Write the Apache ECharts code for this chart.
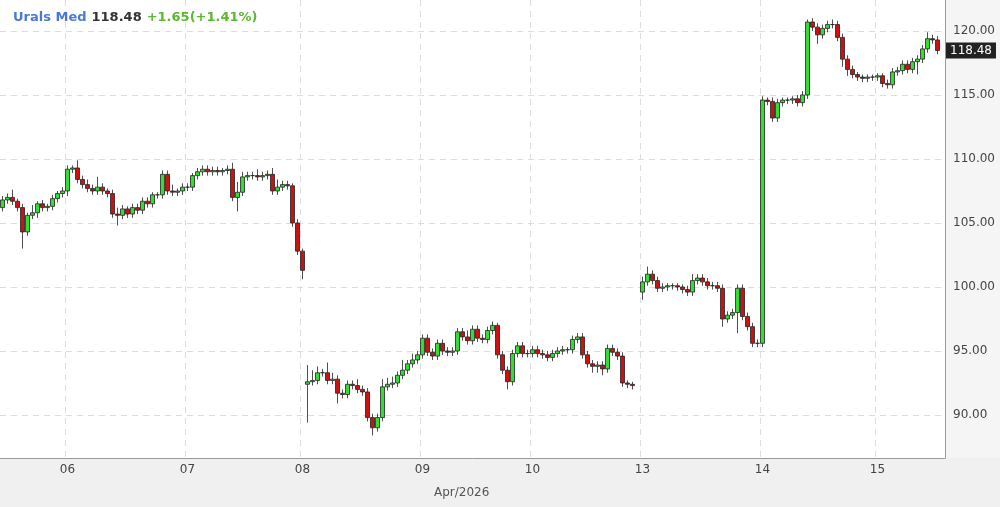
<!DOCTYPE html>
<html>
<head>
<meta charset="utf-8">
<script src="https://cdn.jsdelivr.net/npm/echarts@6/dist/echarts.min.js"></script>
<style>html,body{margin:0;padding:0;background:#fff}#chart{width:1000px;height:507px}</style>
</head>
<body>
<div id="chart"></div>
<script>
// closes per slot, null = no trading in that slot
var closes = [
  106.8,107.0,106.7,106.2,104.3,105.6,105.8,106.5,106.2,106.3,106.9,107.3,107.5,109.2,109.3,108.4,108.0,107.7,107.5,107.8,
  107.5,107.3,105.7,105.6,106.1,105.7,106.2,106.0,106.7,106.5,107.2,107.2,108.8,107.5,107.4,107.5,107.8,107.8,108.7,109.0,
  109.2,109.0,109.1,109.0,109.1,109.2,107.0,107.4,108.6,108.7,108.7,108.6,108.7,108.8,107.5,107.8,108.0,107.9,105.0,102.8,
  101.3,
  92.6,92.7,93.3,93.3,92.7,92.8,91.7,91.6,92.4,92.3,92.0,91.8,89.8,89.0,89.8,92.2,92.4,92.5,93.1,93.5,
  94.0,94.3,94.7,96.0,94.9,94.6,95.6,95.0,94.9,95.0,96.5,96.1,95.8,96.7,96.0,95.9,96.6,97.0,94.7,93.5,
  92.6,94.8,95.4,94.8,94.8,95.1,94.8,94.7,94.5,94.8,95.0,95.1,95.1,95.9,96.1,94.7,94.0,93.8,93.9,93.6,
  95.2,94.9,94.6,92.5,92.4,92.3,
  null,
  100.4,101.0,100.5,99.9,100.0,100.1,100.1,100.0,99.8,99.6,100.5,100.7,100.4,100.1,100.1,99.9,97.5,97.8,98.0,99.9,
  97.7,96.9,95.6,95.6,114.6,114.5,113.2,114.4,114.6,114.6,114.7,114.4,115.0,120.7,120.3,119.7,120.2,120.5,120.5,119.5,
  117.8,117.0,116.6,116.4,116.3,116.4,116.4,116.5,115.9,115.8,116.8,116.9,117.4,117.0,117.6,117.8,118.6,119.4,119.3,118.48
];
// opening prices where a session starts
var sessionOpens = {0: 106.2, 61: 92.4, 128: 99.6};
// extra wick length above / below the body
var wickUp = [0.3,0.3,0.6,0.2,0.3,0.2,0.6,0.2,0.3,0.2,0.3,0.2,0.3,0.3,0.2,0.6,0.3,0.4,0.3,0.8,
  0.3,0.2,0.3,0.5,0.3,0.2,0.3,0.3,0.3,0.3,0.2,0.2,0.3,0.3,0.5,0.2,0.3,0.3,0.2,0.3,
  0.3,0.3,0.3,0.3,0.2,0.3,0.5,0.8,0.4,0.3,0.3,0.5,0.3,0.3,0.5,0.6,0.3,0.3,0.2,0.3,
  0.2,
  1.3,0.8,0.5,0.3,0.8,0.5,0.3,0.3,0.3,0.3,0.5,0.3,0.3,0.3,0.3,0.6,0.5,0.5,0.3,0.8,
  0.3,0.5,0.3,0.3,0.3,0.3,0.3,0.3,0.3,0.3,0.3,0.3,0.5,0.3,0.3,0.3,0.3,0.3,0.2,0.3,
  0.3,0.3,0.3,0.3,0.3,0.3,0.3,0.3,0.3,0.3,0.3,0.3,0.2,0.3,0.3,0.3,0.3,0.3,0.3,0.3,
  0.3,0.3,0.3,0.3,0.2,0.2,
  0,
  0.4,0.6,0.3,0.3,0.3,0.2,0.2,0.2,0.2,0.3,0.5,0.3,0.3,0.3,0.3,0.3,0.3,0.3,0.3,0.3,
  0.3,0.3,0.3,0.3,0.3,0.2,0.3,0.3,0.2,0.2,0.2,0.3,0.3,0.2,0.3,0.3,0.3,0.3,0.4,0.3,
  0.3,0.3,0.3,0.2,0.2,0.2,0.2,0.2,0.2,0.3,0.3,0.3,0.3,0.3,0.3,0.3,0.3,0.5,0.3,0.3];
var wickDown = [0.3,0.3,0.3,0.3,1.3,0.3,0.3,0.4,0.3,0.3,0.3,0.3,0.3,0.4,0.3,0.3,0.3,0.3,0.3,0.3,
  0.3,0.3,0.3,0.8,0.3,0.3,0.3,0.3,0.3,0.3,0.3,0.3,0.3,0.3,0.3,0.3,0.3,0.3,0.3,0.3,
  0.3,0.3,0.3,0.3,0.3,0.3,0.3,1.1,0.3,0.3,0.3,0.3,0.3,0.3,0.3,0.3,0.3,0.3,0.3,0.3,
  0.7,
  3.0,0.3,0.3,0.3,0.3,0.3,0.8,0.3,0.3,0.3,0.3,0.3,0.3,0.6,0.3,0.3,0.3,0.3,0.3,0.3,
  0.3,0.3,0.3,0.3,0.3,0.3,0.3,0.3,0.3,0.3,0.3,0.3,0.3,0.3,0.3,0.3,0.3,0.3,0.3,0.3,
  0.6,0.3,0.3,0.3,0.3,0.3,0.3,0.3,0.3,0.3,0.3,0.3,0.3,0.3,0.3,0.3,0.3,0.5,0.5,0.5,
  0.3,0.3,0.3,0.3,0.3,0.3,
  0,
  0.6,0.3,0.3,0.3,0.3,0.3,0.3,0.3,0.3,0.3,0.3,0.3,0.3,0.3,0.3,0.3,0.6,0.3,0.3,1.6,
  0.3,0.3,0.3,0.3,0.3,0.3,0.3,0.3,0.3,0.3,0.3,0.3,0.3,0.3,0.3,0.7,0.3,0.3,0.3,0.3,
  0.6,0.5,0.3,0.3,0.3,0.3,0.3,0.3,0.3,0.3,0.3,0.3,0.3,0.3,0.3,1.0,0.3,0.3,0.3,0.3];
var totalSlots = 189;
// x-axis day labels and the slot where each one sits
var dayLabels = ['06','07','08','09','10','13','14','15'];
var daySlots = [13, 37, 60, 84, 106, 128, 152, 175];
var priceTicks = [90, 95, 100, 105, 110, 115, 120];
var lastPrice = 118.48;
var titleParts = ['Urals Med', '118.48', '+1.65(+1.41%)'];

var categories = [];
for (var i = 0; i < totalSlots; i++) {
  var k = daySlots.indexOf(i);
  categories.push(k >= 0 ? dayLabels[k] : '');
}
var candles = [];
var prev = null;
for (var i = 0; i < totalSlots; i++) {
  var c = i < closes.length ? closes[i] : null;
  if (c == null) { candles.push('-'); prev = null; continue; }
  var o = sessionOpens[i] != null ? sessionOpens[i] : prev;
  var hi = Math.max(o, c) + (wickUp[i] || 0);
  var lo = Math.min(o, c) - (wickDown[i] || 0);
  candles.push([o, c, lo, hi]);
  prev = c;
}

var myChart = echarts.init(document.getElementById('chart'));
var option = {
  animation: false,
  backgroundColor: '#fff',
  title: {
    left: 8, top: 4,
    text: '{a|' + titleParts[0] + '} {b|' + titleParts[1] + '} {c|' + titleParts[2] + '}',
    textStyle: {
      rich: {
        a: {color: '#4a78d6', fontWeight: 'bold', fontSize: 13, fontFamily: 'DejaVu Sans'},
        b: {color: '#333', fontWeight: 'bold', fontSize: 13, fontFamily: 'DejaVu Sans'},
        c: {color: '#5cb82e', fontWeight: 'bold', fontSize: 13, fontFamily: 'DejaVu Sans'}
      }
    }
  },
  graphic: [
    {type: 'rect', left: 0, top: 458, shape: {width: 1000, height: 49}, style: {fill: '#f0f0f0'}, z: -1},
    {type: 'rect', left: 945, top: 0, shape: {width: 55, height: 458}, style: {fill: '#f5f5f5'}, z: -1},
    {type: 'text', left: 434, top: 487, style: {text: 'Apr/2026', fill: '#555', font: '12px DejaVu Sans'}}
  ],
  grid: {left: 0, right: 55, top: 0, bottom: 49},
  xAxis: {
    type: 'category',
    data: categories,
    boundaryGap: true,
    axisLine: {lineStyle: {color: '#999'}},
    axisTick: {
      alignWithLabel: true,
      interval: function (idx, val) { return val !== ''; },
      lineStyle: {color: '#999'}
    },
    axisLabel: {
      interval: function (idx, val) { return val !== ''; },
      color: '#444', fontSize: 12, fontFamily: 'DejaVu Sans', margin: 6
    },
    splitLine: {
      show: true,
      interval: function (idx, val) { return val !== ''; },
      lineStyle: {color: '#ddd', type: [6, 5]}
    }
  },
  yAxis: {
    type: 'value',
    position: 'right',
    min: 86.64, max: 122.42,
    axisLine: {show: true, lineStyle: {color: '#999'}},
    axisTick: {show: false, customValues: priceTicks},
    axisLabel: {
      customValues: priceTicks,
      color: '#444', fontSize: 12, fontFamily: 'DejaVu Sans', margin: 8,
      formatter: function (v) { return v.toFixed(2); }
    },
    splitLine: {lineStyle: {color: '#ddd', type: [6, 5]}}
  },
  series: [{
    type: 'candlestick',
    data: candles,
    barWidth: 5,
    itemStyle: {
      color: '#33dd33', color0: '#cc1111',
      borderColor: '#222', borderColor0: '#222', borderWidth: 0.8
    },
    markLine: {
      symbol: 'none', silent: true,
      lineStyle: {color: 'rgba(0,0,0,0)', width: 0},
      data: [{yAxis: lastPrice}],
      label: {
        show: true, position: 'end', distance: 1,
        formatter: function () { return lastPrice.toFixed(2); },
        backgroundColor: '#222', color: '#fff', padding: [2, 4],
        fontSize: 12, fontFamily: 'DejaVu Sans'
      }
    }
  }]
};
myChart.setOption(option);
</script>
</body>
</html>
